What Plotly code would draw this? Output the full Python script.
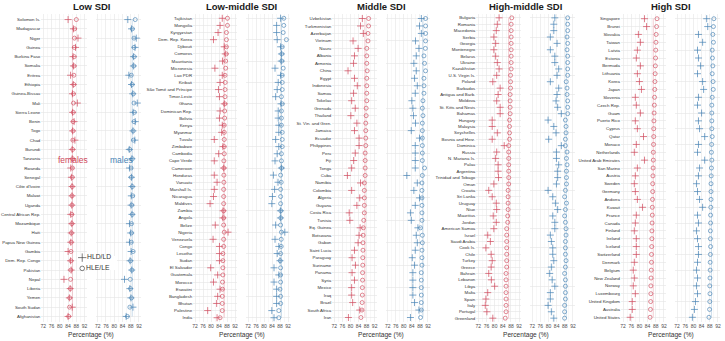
import plotly.graph_objects as go

# ---------------- DATA ----------------
panel_titles = ["Low SDI", "Low-middle SDI", "Middle SDI", "High-middle SDI", "High SDI"]
tick_vals = [72, 76, 80, 84, 88, 92]
tick_text = ["72", "76", "80", "84", "88", "92"]
minor_vals = [74, 78, 82, 86, 90]
legend_labels = ["HLD/LD", "HLE/LE"]

low_countries = ["Solomon Is.", "Madagascar", "Niger", "Guinea", "Burkina Faso", "Somalia", "Eritrea",
                 "Ethiopia", "Guinea-Bissau", "Mali", "Sierra Leone", "Benin", "Togo", "Chad", "Burundi",
                 "Tanzania", "Rwanda", "Senegal", "Côte d'Ivoire", "Malawi", "Uganda", "Central African Rep.",
                 "Mozambique", "Haiti", "Papua New Guinea", "Gambia", "Dem. Rep. Congo", "Pakistan", "Nepal",
                 "Liberia", "Yemen", "South Sudan", "Afghanistan"]
low_f_hld = [84.0, 86.6, 88.8, 87.6, 86.4, 86.6, 85.2, 86.5, 86.1, 88.5, 86.2, 86.9, 86.2, 87.3, 86.0,
             86.0, 85.3, 85.6, 85.9, 85.9, 85.8, 85.3, 85.8, 85.5, 85.3, 84.0, 85.2, 85.5, 82.0, 85.0,
             84.6, 86.0, 84.0]
low_f_hle = [88.0, 87.2, 87.1, 87.0, 87.0, 86.9, 86.8, 86.8, 86.6, 86.6, 86.5, 86.4, 86.4, 86.3, 86.2,
             86.2, 86.1, 86.0, 86.0, 85.9, 85.9, 85.8, 85.8, 85.6, 85.5, 85.4, 85.4, 85.3, 85.2, 85.1,
             84.8, 84.7, 84.3]
low_m_hld = [86.6, 88.4, 90.7, 90.1, 89.4, 89.3, 87.1, 88.4, 89.0, 91.2, 89.2, 90.2, 89.1, 90.0, 87.3,
             88.6, 87.4, 88.4, 88.6, 88.3, 88.2, 88.6, 87.4, 88.0, 87.4, 88.2, 87.7, 88.5, 85.0, 87.6,
             88.1, 89.1, 85.8]
low_m_hle = [90.2, 88.8, 89.6, 89.6, 89.7, 89.5, 88.3, 88.7, 89.3, 89.6, 89.8, 89.6, 89.2, 89.3, 87.6,
             88.8, 88.2, 88.3, 88.8, 89.0, 88.5, 88.8, 88.4, 88.4, 88.3, 89.2, 87.9, 88.6, 87.8, 87.9,
             88.4, 87.6, 86.4]

lm_countries = ["Tajikistan", "Mongolia", "Kyrgyzstan", "Dem. Rep. Korea", "Djibouti", "Comoros",
                "Mauritania", "Micronesia", "Lao PDR", "Kiribati", "São Tomé and Príncipe", "Timor-Leste",
                "Ghana", "Dominican Rep.", "Bolivia", "Kenya", "Myanmar", "Tuvalu", "Zimbabwe", "Cambodia",
                "Cape Verde", "Cameroon", "Honduras", "Vanuatu", "Marshall Is.", "Nicaragua", "Maldives",
                "Zambia", "Angola", "Belize", "Nigeria", "Venezuela", "Congo", "Lesotho", "Sudan",
                "El Salvador", "Guatemala", "Morocco", "Eswatini", "Bangladesh", "Bhutan", "Palestine", "India"]
lm_f_hld = [85.6, 84.5, 83.5, 81.2, 86.6, 87.1, 85.7, 81.9, 85.6, 84.5, 83.7, 84.2, 86.6, 84.5, 84.2,
            85.6, 85.3, 81.6, 85.9, 83.8, 81.6, 86.3, 81.6, 83.0, 81.6, 81.2, 79.5, 86.0, 85.9, 82.1,
            88.5, 81.0, 84.2, 84.2, 84.2, 79.8, 83.3, 81.2, 84.5, 83.3, 82.8, 78.3, 83.0]
lm_f_hle = [88.2, 88.2, 87.7, 87.7, 87.7, 87.6, 87.3, 87.3, 87.0, 87.1, 87.0, 87.0, 86.9, 86.8, 86.8,
            86.6, 86.6, 86.6, 86.6, 86.6, 86.4, 86.4, 86.4, 86.4, 86.3, 86.3, 86.3, 86.3, 86.3, 86.3,
            86.6, 86.3, 86.3, 85.9, 85.9, 85.9, 85.9, 85.7, 85.7, 85.6, 85.6, 85.6, 84.5]
lm_m_hld = [88.3, 86.3, 86.3, 86.6, 88.3, 88.7, 88.6, 85.5, 88.3, 87.1, 86.6, 85.8, 88.5, 87.1, 87.1,
            87.4, 87.4, 85.8, 87.4, 86.6, 85.5, 88.7, 84.7, 87.0, 85.3, 84.2, 83.9, 88.2, 88.2, 85.8,
            90.4, 85.5, 87.4, 86.6, 88.0, 85.0, 87.4, 85.0, 86.3, 86.3, 86.3, 83.9, 85.0]
lm_m_hle = [89.9, 89.9, 89.6, 91.2, 89.1, 88.9, 88.9, 89.6, 89.1, 89.1, 89.1, 88.7, 89.1, 88.7, 88.7,
            88.7, 89.1, 89.1, 89.1, 88.7, 88.7, 88.8, 88.3, 88.6, 88.3, 88.3, 88.3, 88.4, 88.4, 88.3,
            88.7, 88.6, 88.6, 88.3, 88.1, 88.3, 88.3, 88.3, 88.0, 88.3, 88.3, 87.4, 87.4]

mid_countries = ["Uzbekistan", "Turkmenistan", "Azerbaijan", "Vietnam", "Nauru", "Albania", "Armenia",
                 "China", "Egypt", "Indonesia", "Samoa", "Tokelau", "Grenada", "Thailand",
                 "St. Vin. and Gren.", "Jamaica", "Ecuador", "Philippines", "Peru", "Fiji", "Tonga", "Cuba",
                 "Namibia", "Colombia", "Algeria", "Guyana", "Costa Rica", "Tunisia", "Eq. Guinea",
                 "Botswana", "Gabon", "Saint Lucia", "Paraguay", "Suriname", "Panama", "Syria", "Mexico",
                 "Iraq", "Brazil", "South Africa", "Iran"]
mid_f_hld = [85.9, 85.0, 86.4, 81.3, 83.8, 82.0, 81.5, 78.8, 82.0, 83.4, 81.5, 80.6, 82.4, 80.2, 83.2,
             82.0, 84.3, 84.3, 82.4, 81.6, 80.6, 78.5, 85.0, 80.6, 84.6, 83.2, 79.4, 79.7, 84.8, 84.3,
             83.8, 82.0, 80.8, 82.5, 80.8, 82.0, 80.6, 80.6, 81.1, 84.6, 79.0]
mid_f_hle = [89.0, 89.0, 88.7, 88.7, 88.1, 88.1, 88.1, 88.3, 88.1, 88.1, 88.1, 88.1, 87.8, 87.8, 87.6,
             87.6, 87.6, 87.6, 87.3, 87.3, 87.3, 87.3, 86.9, 86.9, 86.9, 86.9, 86.9, 86.6, 86.4, 86.3,
             86.2, 86.2, 86.1, 86.1, 86.0, 86.0, 85.9, 85.9, 85.8, 85.7, 85.2]
mid_m_hld = [88.7, 87.8, 88.7, 85.8, 87.5, 86.2, 85.0, 86.2, 85.3, 86.7, 85.7, 84.0, 84.5, 84.8, 85.8,
             83.7, 87.8, 85.7, 85.7, 85.7, 85.7, 81.5, 86.7, 85.0, 87.8, 85.7, 83.3, 83.7, 87.0, 86.2,
             86.7, 85.7, 84.2, 85.3, 84.5, 84.5, 84.5, 84.5, 85.3, 87.5, 83.3]
mid_m_hle = [90.8, 90.8, 90.8, 90.8, 90.7, 90.0, 90.3, 90.8, 90.0, 90.0, 90.0, 89.5, 89.2, 89.5, 89.2,
             89.2, 89.2, 89.2, 89.2, 89.2, 90.3, 89.2, 89.0, 89.0, 89.0, 89.0, 89.0, 89.0, 88.3, 89.2,
             89.2, 89.0, 89.0, 89.0, 88.7, 88.7, 88.7, 88.7, 88.7, 88.7, 88.3]

hm_countries = ["Bulgaria", "Romania", "Macedonia", "Serbia", "Georgia", "Montenegro", "Belarus", "Ukraine",
                "Kazakhstan", "U.S. Virgin Is.", "Poland", "Barbados", "Antigua and Barb.", "Moldova",
                "St. Kitts and Nevis", "Bahamas", "Hungary", "Malaysia", "Seychelles", "Bosnia and Herz.",
                "Dominica", "Russia", "N. Mariana Is.", "Palau", "Argentina", "Trinidad and Tobago", "Oman",
                "Croatia", "Sri Lanka", "Uruguay", "Niue", "Mauritius", "Jordan", "American Samoa", "Israel",
                "Saudi Arabia", "Cook Is.", "Chile", "Turkey", "Greece", "Bahrain", "Lebanon", "Libya",
                "Malta", "Spain", "Italy", "Portugal", "Greenland"]
hm_f_hld = [82.2, 81.3, 80.8, 79.6, 80.5, 79.6, 80.5, 81.3, 82.2, 81.0, 79.1, 82.7, 81.7, 81.0, 82.7,
            82.7, 78.8, 78.8, 81.3, 78.8, 84.7, 81.0, 80.5, 81.7, 81.7, 81.9, 79.6, 77.1, 78.8, 80.8,
            81.0, 79.3, 80.8, 79.6, 76.6, 77.9, 75.7, 78.3, 78.8, 78.3, 77.1, 78.4, 80.0, 76.6, 75.7,
            75.4, 76.2, 79.1]
hm_f_hle = [88.4, 88.1, 88.1, 88.1, 88.1, 88.1, 88.1, 88.1, 88.1, 87.8, 87.8, 87.8, 87.6, 87.6, 87.6,
            87.6, 87.3, 87.3, 87.3, 87.3, 86.9, 86.9, 86.9, 86.9, 86.9, 86.9, 86.9, 86.6, 86.6, 86.6,
            86.6, 86.4, 86.4, 85.9, 85.9, 85.9, 85.9, 85.9, 85.9, 85.9, 85.6, 85.6, 85.6, 85.6, 85.6,
            85.6, 85.6, 85.2]
hm_m_hld = [83.1, 82.6, 82.6, 80.9, 84.2, 80.9, 83.1, 83.1, 85.0, 84.2, 80.9, 85.0, 84.2, 83.7, 84.5,
            86.3, 79.8, 82.6, 83.7, 80.1, 86.3, 83.9, 83.9, 85.0, 84.5, 84.5, 83.9, 79.8, 82.1, 83.4,
            84.5, 82.1, 83.1, 83.1, 80.9, 81.4, 82.1, 82.1, 82.6, 81.4, 80.6, 81.8, 83.1, 80.9, 80.9,
            79.8, 81.4, 82.6]
hm_m_hle = [89.4, 89.4, 89.4, 89.1, 89.4, 89.1, 89.4, 89.4, 89.4, 89.4, 88.7, 89.1, 89.1, 89.4, 89.4,
            89.4, 88.3, 88.6, 88.6, 88.3, 88.3, 89.1, 88.8, 89.1, 88.8, 88.8, 88.8, 88.3, 87.9, 88.8,
            88.3, 87.9, 88.3, 88.6, 88.6, 88.3, 88.3, 88.3, 88.6, 88.3, 87.9, 88.3, 88.3, 88.3, 88.3,
            87.9, 87.9, 87.9]

hi_countries = ["Singapore", "Brunei", "Slovakia", "Taiwan", "Latvia", "Estonia", "Bermuda", "Lithuania",
                "Korea", "Japan", "Slovenia", "Czech Rep.", "Guam", "Puerto Rico", "Cyprus", "Qatar", "Monaco",
                "Netherlands", "United Arab Emirates", "San Marino", "Austria", "Sweden", "Germany", "Andorra",
                "Kuwait", "France", "Canada", "Finland", "Ireland", "Iceland", "Switzerland", "Denmark",
                "Belgium", "New Zealand", "Norway", "Luxembourg", "United Kingdom", "Australia",
                "United States"]
hi_f_hld = [82.5, 83.5, 79.5, 80.5, 79.0, 78.5, 80.5, 79.0, 80.0, 81.0, 78.0, 78.5, 80.5, 78.0, 79.0,
            82.0, 78.5, 77.5, 82.5, 79.0, 78.0, 77.5, 78.0, 79.0, 81.5, 78.5, 78.0, 77.5, 78.5, 78.5,
            78.5, 77.5, 77.0, 77.5, 77.0, 78.0, 76.5, 76.5, 75.5]
hi_f_hle = [88.6, 88.4, 88.2, 88.1, 88.0, 87.9, 87.8, 87.7, 87.6, 87.5, 87.4, 87.3, 87.2, 87.1, 87.0,
            87.0, 86.9, 86.8, 86.8, 86.7, 86.6, 86.5, 86.5, 86.4, 86.3, 86.3, 86.2, 86.1, 86.1, 86.0,
            85.9, 85.9, 85.8, 85.7, 85.6, 85.6, 85.5, 85.4, 85.2]
hi_m_hld = [86.5, 87.0, 82.5, 84.5, 82.0, 82.5, 83.5, 82.0, 84.5, 85.0, 82.5, 82.0, 84.0, 82.5, 83.0,
            85.5, 82.5, 82.0, 85.5, 83.0, 82.5, 81.5, 82.0, 83.0, 84.5, 82.0, 82.5, 81.5, 82.0, 82.5,
            82.5, 82.0, 81.5, 82.0, 81.5, 82.0, 81.0, 80.5, 79.5]
hi_m_hle = [90.0, 89.8, 89.5, 89.8, 89.2, 89.3, 89.5, 89.2, 89.6, 89.7, 89.2, 89.0, 89.0, 89.0, 89.0,
            89.2, 88.9, 88.8, 89.0, 88.8, 88.7, 88.6, 88.6, 88.6, 88.5, 88.4, 88.4, 88.3, 88.3, 88.4,
            88.3, 88.2, 88.2, 88.1, 88.0, 88.1, 88.0, 87.9, 87.6]

panels = [
    (low_countries, low_f_hld, low_f_hle, low_m_hld, low_m_hle),
    (lm_countries, lm_f_hld, lm_f_hle, lm_m_hld, lm_m_hle),
    (mid_countries, mid_f_hld, mid_f_hle, mid_m_hld, mid_m_hle),
    (hm_countries, hm_f_hld, hm_f_hle, hm_m_hld, hm_m_hle),
    (hi_countries, hi_f_hld, hi_f_hle, hi_m_hld, hi_m_hle),
]

# ---------------- LAYOUT / STYLE ----------------
W, H = 725, 341
F_COL = "#d1495b"
M_COL = "#4682b4"
GRID = "#e4e4e4"
FONT = "Liberation Sans, Arial, sans-serif"
XR = [71, 93]
GAP = 9
regions = [(41.3, 141.0), (193.1, 290.0), (332.3, 430.0), (476.3, 575.0), (621.0, 720.0)]
TOP, BOT = 14, 322
ydom = [1 - BOT / H, 1 - TOP / H]

fig = go.Figure()
layout = dict(
    width=W, height=H, margin=dict(l=0, r=0, t=0, b=0, autoexpand=False),
    paper_bgcolor="white", plot_bgcolor="white",
    font=dict(family=FONT, color="#4d4d4d"), showlegend=False,
)
annotations = []

for p, (countries, fh, fe, mh, me) in enumerate(panels):
    L, R = regions[p]
    w = (R - L - GAP) / 2
    doms = [(L, L + w), (R - w, R)]
    n = len(countries)
    for s, (hld, hle, col) in enumerate([(fh, fe, F_COL), (mh, me, M_COL)]):
        idx = 2 * p + s + 1
        xs = "x" if idx == 1 else f"x{idx}"
        ys = "y" if idx == 1 else f"y{idx}"
        xk = "xaxis" if idx == 1 else f"xaxis{idx}"
        yk = "yaxis" if idx == 1 else f"yaxis{idx}"
        mean_v = sum(hle) / len(hle)
        fig.add_trace(go.Scatter(x=[mean_v, mean_v], y=[countries[0], countries[-1]], mode="lines",
                                 line=dict(color=col, width=0.7), opacity=0.4,
                                 xaxis=xs, yaxis=ys, hoverinfo="skip"))
        fig.add_trace(go.Scatter(x=hld, y=countries, mode="markers", xaxis=xs, yaxis=ys,
                                 marker=dict(symbol="cross-thin-open", size=5, color=col,
                                             line=dict(color=col, width=0.7))))
        fig.add_trace(go.Scatter(x=hle, y=countries, mode="markers", xaxis=xs, yaxis=ys,
                                 marker=dict(symbol="circle-open", size=4.0, color=col,
                                             line=dict(color=col, width=0.65))))
        d0, d1 = doms[s]
        layout[xk] = dict(domain=[d0 / W, d1 / W], anchor=ys, range=XR, automargin=False,
                          tickmode="array", tickvals=tick_vals, ticktext=tick_text, tickangle=0,
                          tickfont=dict(size=5.0, color="#4d4d4d"), ticks="", ticklen=0,
                          showgrid=True, gridcolor=GRID, gridwidth=0.6, zeroline=False,
                          showline=False,
                          minor=dict(tickmode="array", tickvals=minor_vals, showgrid=True,
                                     gridcolor="#eeeeee", gridwidth=0.4))
        ya = dict(domain=ydom, anchor=xs, type="category", automargin=False,
                  categoryorder="array", categoryarray=countries,
                  range=[n - 1 + 0.6, -0.6], showgrid=True, gridcolor=GRID, gridwidth=0.6,
                  zeroline=False, showline=False, ticks="",
                  tickfont=dict(size=4.4, color="#333333"))
        if s == 1:
            ya["matches"] = "y" if p == 0 else f"y{2 * p + 1}"
            ya["showticklabels"] = False
        layout[yk] = ya
    cx = (L + R) / 2 / W
    annotations.append(dict(text=f"<b>{panel_titles[p]}</b>", x=cx, y=1 - 7 / H, xref="paper", yref="paper",
                            showarrow=False, font=dict(size=9.5, color="#1a1a1a"),
                            xanchor="center", yanchor="middle"))
    annotations.append(dict(text="Percentage (%)", x=cx, y=1 - 335 / H, xref="paper", yref="paper",
                            showarrow=False, font=dict(size=6.6, color="#333333"),
                            xanchor="center", yanchor="middle"))

annotations.append(dict(text="females", x=56 / W, y=1 - 160 / H, xref="paper", yref="paper",
                        showarrow=False, font=dict(size=8.5, color=F_COL)))
annotations.append(dict(text="males", x=108 / W, y=1 - 160 / H, xref="paper", yref="paper",
                        showarrow=False, font=dict(size=8.5, color=M_COL)))

# legend drawn on its own hidden axis pair
fig.add_trace(go.Scatter(x=[0, 0], y=[1, 0], mode="markers+text", text=legend_labels,
                         textposition="middle right", textfont=dict(size=6.8, color="#333333"),
                         marker=dict(symbol=["cross-thin-open", "circle-open"], size=[6, 4.6],
                                     color="#333333", line=dict(color="#333333", width=0.9)),
                         xaxis="x11", yaxis="y11", cliponaxis=False, hoverinfo="skip"))
layout["xaxis11"] = dict(domain=[77 / W, 117 / W], anchor="y11", range=[-0.15, 1], visible=False,
                         fixedrange=True, automargin=False)
layout["yaxis11"] = dict(domain=[1 - 270 / H, 1 - 256 / H], anchor="x11", range=[-0.15, 1.15],
                         visible=False, fixedrange=True, automargin=False)
layout["annotations"] = annotations
fig.update_layout(**layout)
fig.write_html("out.html", config={"displayModeBar": False, "staticPlot": True},
               post_script="document.body.style.margin='0px';document.body.style.padding='0px';"
                           "document.documentElement.style.overflow='hidden';")
